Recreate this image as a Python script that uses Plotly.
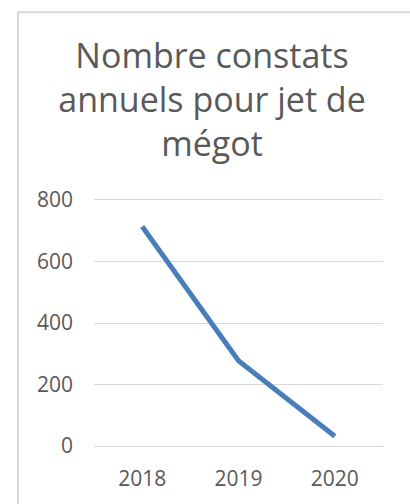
import plotly.graph_objects as go

years = ["2018", "2019", "2020"]
constats = [714, 277, 32]
y_ticks = [0, 200, 400, 600, 800]
title_text = "Nombre constats<br>annuels pour jet de<br>mégot"

W, H = 410, 504
pad_px = 3
y0_px, y800_px = 449, 200
unit_px = (y0_px - y800_px) / 800
pad_units = pad_px / unit_px

ml, mr, mt, mb = 94, 27, y800_px - pad_px, H - y0_px - pad_px
pw, ph = W - ml - mr, H - mt - mb

def px_to_paper_x(px):
    return (px - ml) / pw

def px_to_paper_y(py):
    return 1 + (mt - py) / ph

fig = go.Figure(
    go.Scatter(
        x=years, y=constats, mode="lines",
        line=dict(color="#4A7EBB", width=5),
        hoverinfo="x+y",
    )
)

fig.update_layout(
    width=W, height=H,
    margin=dict(l=ml, r=mr, t=mt, b=mb),
    paper_bgcolor="white", plot_bgcolor="white",
    showlegend=False,
    font=dict(family="Open Sans", color="#595959"),
    title=dict(
        text=title_text, x=212 / W, xref="container", xanchor="center",
        y=1 - 68 / H, yref="container", yanchor="top",
        font=dict(size=34, color="#595959", family="Open Sans"),
    ),
)

fig.update_xaxes(
    type="category", range=[-0.5, 2.5], showgrid=False, showline=False,
    ticks="", tickfont=dict(size=21, color="#595959"), ticklabelstandoff=15,
)
fig.update_yaxes(
    range=[-pad_units, 800 + pad_units], tickvals=y_ticks, showgrid=True,
    gridcolor="#D9D9D9", gridwidth=1, zeroline=False,
    showline=False, ticks="",
    tickfont=dict(size=21, color="#595959"), ticklabelstandoff=20,
)

# chart frame (only top and left edges visible in the cropped reference)
fig.add_shape(
    type="path", xref="paper", yref="paper", layer="above",
    path=f"M {px_to_paper_x(18)} {px_to_paper_y(520)} L {px_to_paper_x(18)} {px_to_paper_y(10)} L {px_to_paper_x(430)} {px_to_paper_y(10)}",
    line=dict(color="#D9D9D9", width=2),
)

fig.write_html(
    "out.html",
    config={"displayModeBar": False},
    post_script="document.body.style.margin='0px';",
)
